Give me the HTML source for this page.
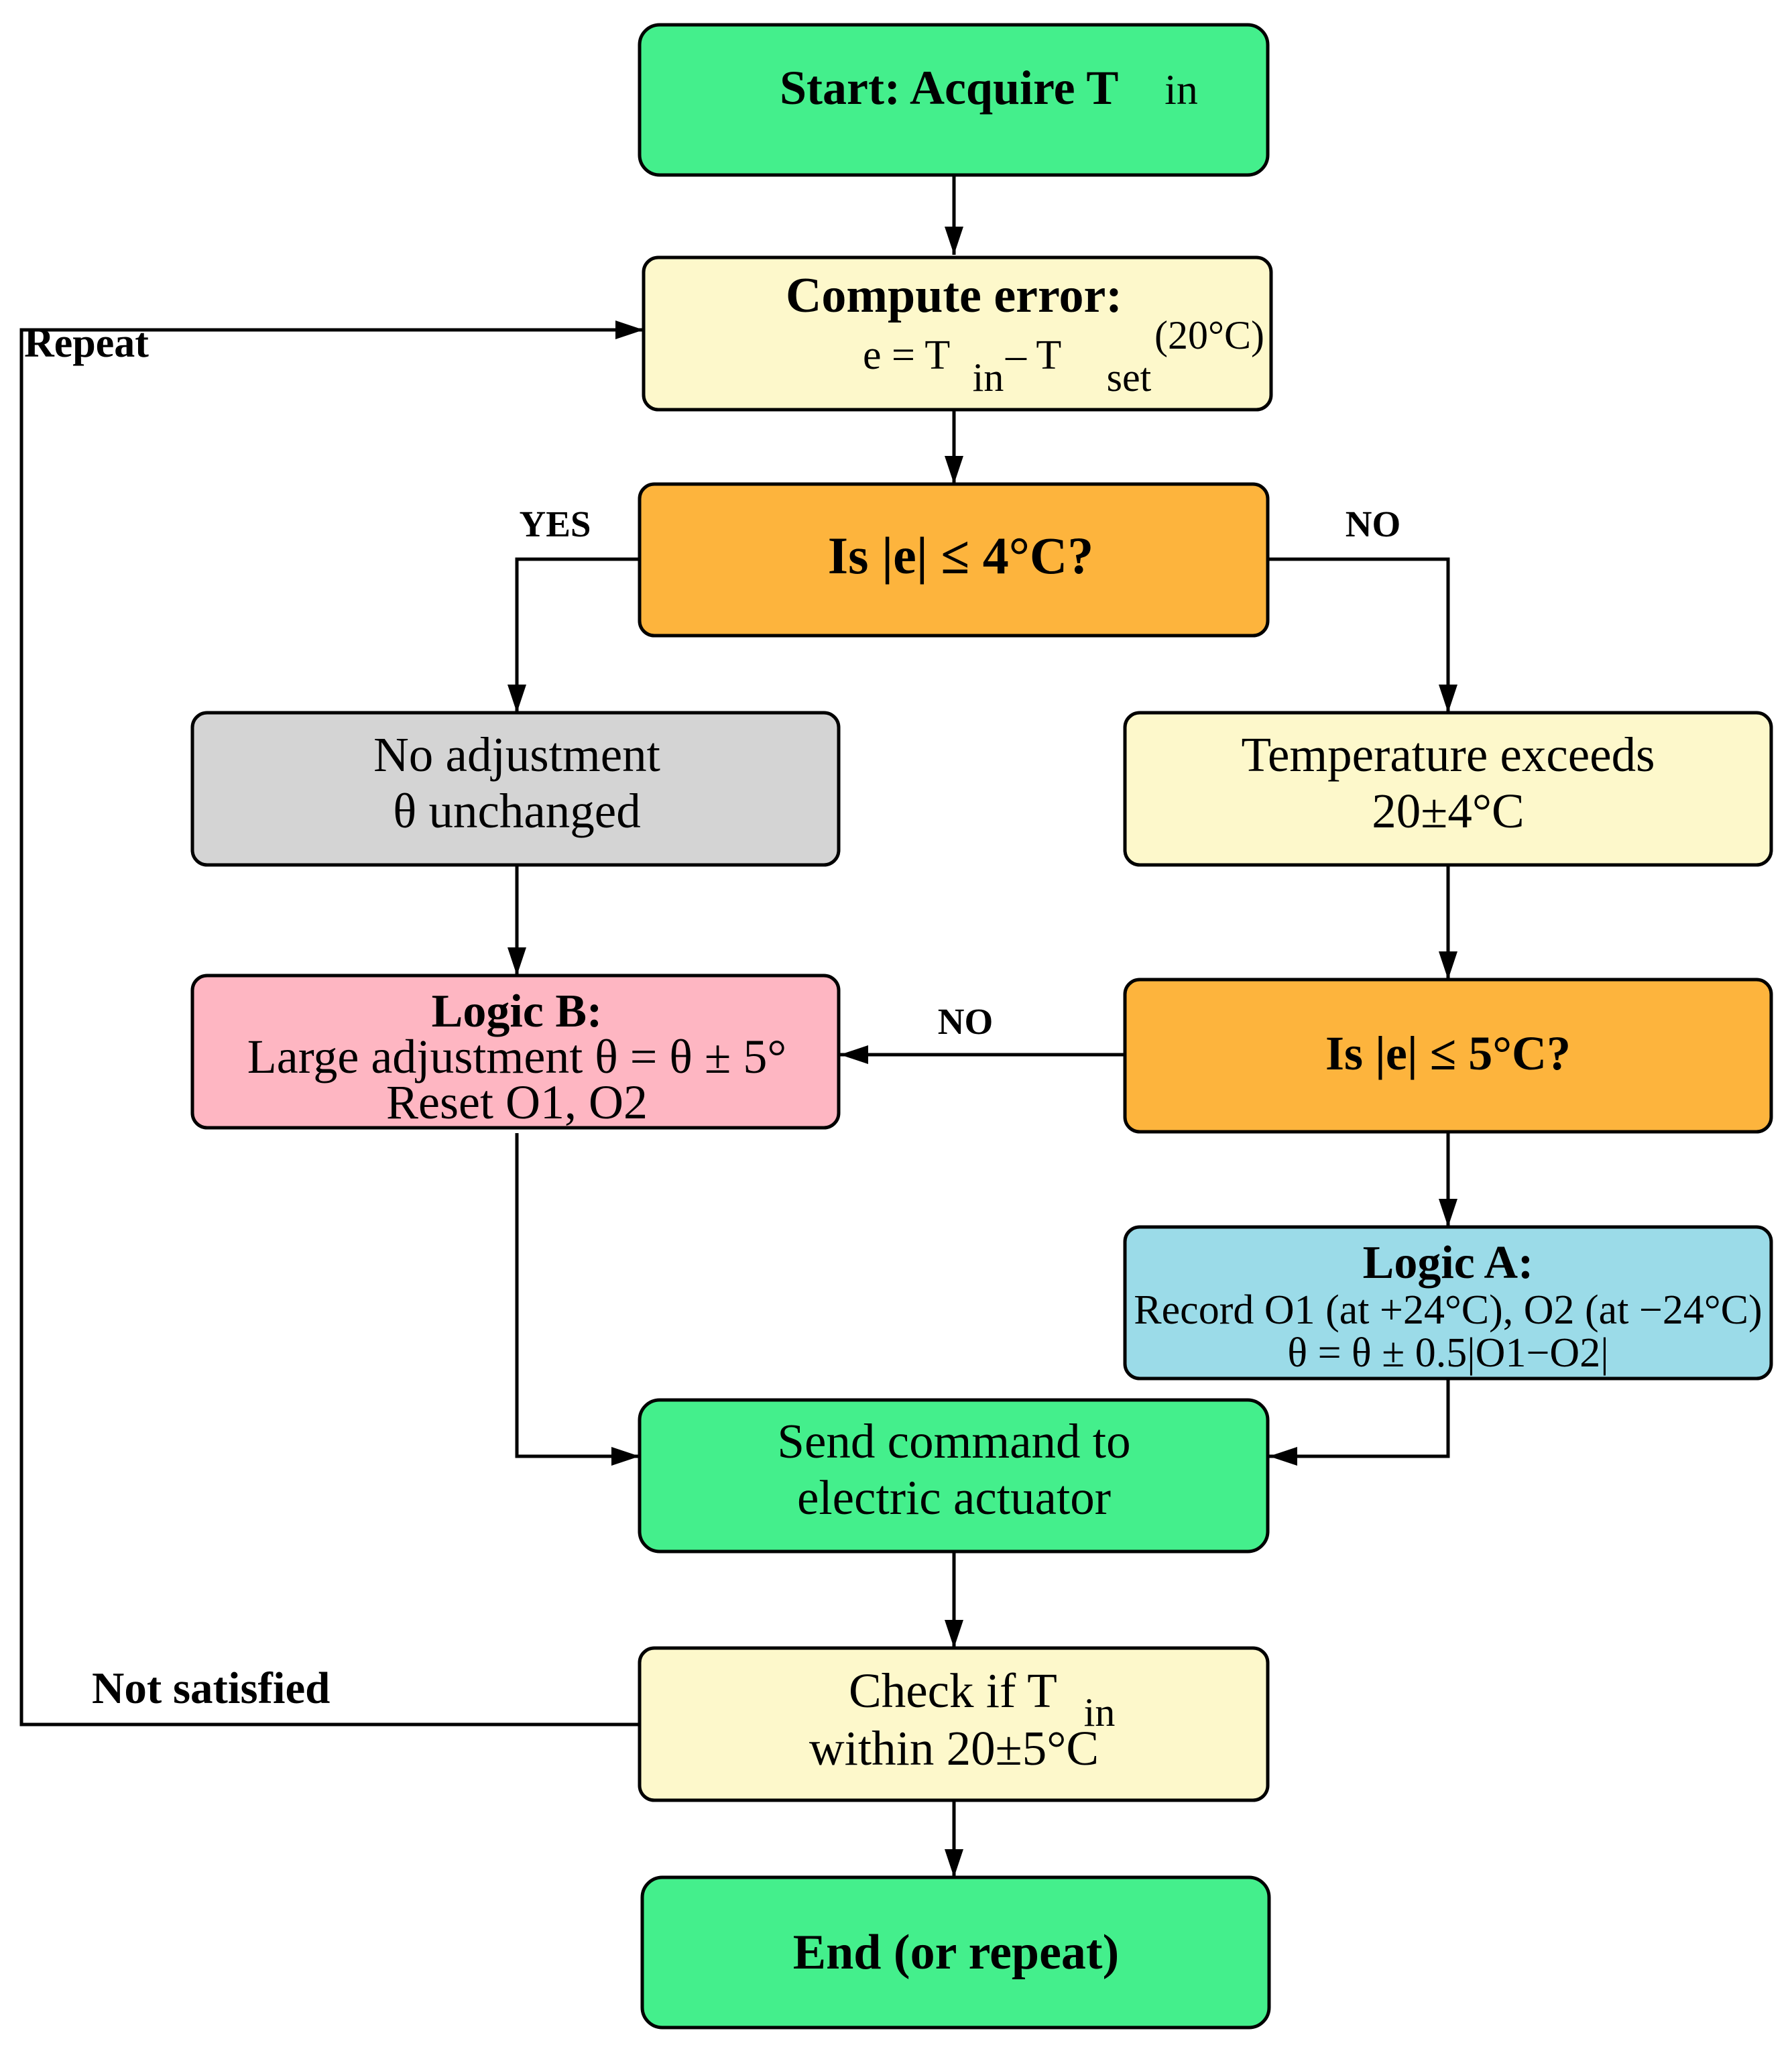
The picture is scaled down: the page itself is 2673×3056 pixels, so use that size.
<!DOCTYPE html>
<html><head><meta charset="utf-8"><style>html,body{margin:0;padding:0;background:#fff}svg{display:block}</style></head>
<body>
<svg width="2673" height="3056" viewBox="0 0 2673 3056" xmlns="http://www.w3.org/2000/svg" font-family="'Liberation Serif', serif">
<defs>
<marker id="m" viewBox="0 0 12 8" refX="12" refY="4" markerWidth="48" markerHeight="28" orient="auto" markerUnits="userSpaceOnUse"><path d="M0,0 L12,4 L0,8 z" fill="#000"/></marker></defs>
<g stroke="#000" stroke-width="5" fill="none">
<path d="M1423 261 V380" marker-end="url(#m)"/>
<path d="M1423 611 V722" marker-end="url(#m)"/>
<path d="M954 834 H771 V1063" marker-end="url(#m)"/>
<path d="M1891 834 H2160 V1063" marker-end="url(#m)"/>
<path d="M771 1290 V1455" marker-end="url(#m)"/>
<path d="M2160 1290 V1461" marker-end="url(#m)"/>
<path d="M1678 1573 H1253" marker-end="url(#m)"/>
<path d="M2160 1688 V1830" marker-end="url(#m)"/>
<path d="M771 1690 V2172 H954" marker-end="url(#m)"/>
<path d="M2160 2056 V2172 H1893" marker-end="url(#m)"/>
<path d="M1423 2314 V2458" marker-end="url(#m)"/>
<path d="M954 2572 H32 V492 H960" marker-end="url(#m)"/>
<path d="M1423 2685 V2800" marker-end="url(#m)"/>
</g>
<g stroke="#000" stroke-width="5">
<rect x="954" y="37" width="937" height="224" rx="30" fill="#44ef8c"/>
<rect x="960" y="384" width="936" height="227" rx="22" fill="#fdf8cb"/>
<rect x="954" y="722" width="937" height="226" rx="22" fill="#fdb43d"/>
<rect x="287" y="1063" width="964" height="227" rx="22" fill="#d4d4d4"/>
<rect x="1678" y="1063" width="964" height="227" rx="22" fill="#fdf8cb"/>
<rect x="287" y="1455" width="964" height="227" rx="22" fill="#feb6c2"/>
<rect x="1678" y="1461" width="964" height="227" rx="22" fill="#fdb43d"/>
<rect x="1678" y="1830" width="964" height="226" rx="22" fill="#9bdbe8"/>
<rect x="954" y="2088" width="937" height="226" rx="30" fill="#44ef8c"/>
<rect x="954" y="2458" width="937" height="227" rx="22" fill="#fdf8cb"/>
<rect x="958" y="2800" width="935" height="224" rx="30" fill="#44ef8c"/>
</g>
<g fill="#000" text-anchor="middle">
<text x="1163" y="155" font-weight="bold" font-size="72" text-anchor="start">Start: Acquire T</text>
<text x="1762" y="155" font-size="64">in</text>
<text x="1423" y="465" font-weight="bold" font-size="74">Compute error:</text>
<text x="1287" y="550" font-size="62" text-anchor="start">e = T</text>
<text x="1474" y="583" font-size="60">in</text>
<text x="1500" y="550" font-size="62" text-anchor="start">– T</text>
<text x="1684" y="583" font-size="60">set</text>
<text x="1804" y="520" font-size="60">(20°C)</text>
<text x="1433" y="855" font-weight="bold" font-size="78">Is |e| ≤ 4°C?</text>
<text x="771" y="1150" font-size="73">No adjustment</text>
<text x="771" y="1234" font-size="73">θ unchanged</text>
<text x="2160" y="1150" font-size="73">Temperature exceeds</text>
<text x="2160" y="1234" font-size="73">20±4°C</text>
<text x="771" y="1531" font-weight="bold" font-size="70">Logic B:</text>
<text x="771" y="1600" font-size="72">Large adjustment θ = θ ± 5°</text>
<text x="771" y="1668" font-size="72">Reset O1, O2</text>
<text x="2160" y="1595" font-weight="bold" font-size="72">Is |e| ≤ 5°C?</text>
<text x="2160" y="1906" font-weight="bold" font-size="70">Logic A:</text>
<text x="2160" y="1974" font-size="62">Record O1 (at +24°C), O2 (at −24°C)</text>
<text x="2160" y="2038" font-size="62">θ = θ ± 0.5|O1−O2|</text>
<text x="1423" y="2174" font-size="73">Send command to</text>
<text x="1423" y="2258" font-size="73">electric actuator</text>
<text x="1266" y="2546" font-size="73" text-anchor="start">Check if T</text>
<text x="1640" y="2574" font-size="60">in</text>
<text x="1423" y="2632" font-size="73">within 20±5°C</text>
<text x="1426" y="2936" font-weight="bold" font-size="74">End (or repeat)</text>
</g>
<g fill="#000" font-weight="bold" text-anchor="middle">
<text x="828" y="800" font-size="55">YES</text>
<text x="2048" y="800" font-size="55">NO</text>
<text x="1440" y="1542" font-size="55">NO</text>
<text x="36" y="532" font-size="62" text-anchor="start">Repeat</text>
<text x="137" y="2540" font-size="67" text-anchor="start">Not satisfied</text>
</g>
</svg>
</body></html>
